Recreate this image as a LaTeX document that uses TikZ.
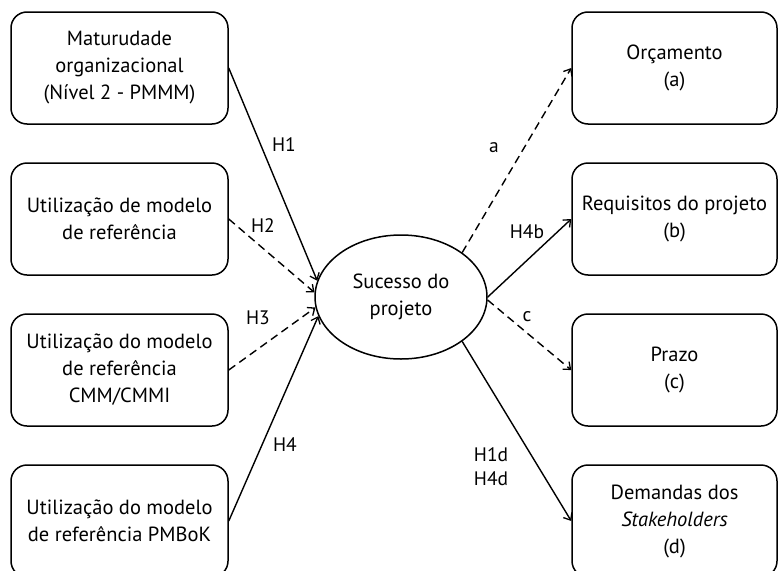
\documentclass[tikz,border=0pt]{standalone}
\usepackage{fontspec}
\setmainfont{PT Sans}
\usetikzlibrary{shapes.geometric,arrows.meta}
\begin{document}
\begin{tikzpicture}[x=1pt,y=-1pt,
  box/.style={draw,line width=1.5pt,rounded corners=16pt,minimum width=217pt,minimum height=112pt,inner sep=0pt,align=center,font=\fontsize{20.5}{27}\selectfont},
  rbox/.style={box,minimum width=205pt},
  lab/.style={font=\fontsize{19.5}{24}\selectfont,align=center,inner sep=0pt},
  conn/.style={line width=1.4pt,-{Straight Barb[length=6pt,width=10pt,line width=1.3pt]}},
  dsh/.style={conn,dash pattern=on 8pt off 5pt}]
\useasboundingbox (0,0) rectangle (778,570);
\clip (0,0) rectangle (778,570);
\node[box] (m1) at (119.5,68) {Maturudade\\organizacional\\(Nível 2 - PMMM)};
\node[box] (m2) at (119.5,219) {Utilização de modelo\\de referência};
\node[box] (m3) at (119.5,370) {Utilização do modelo\\de referência\\CMM/CMMI};
\node[box] (m4) at (119.5,521) {Utilização do modelo\\de referência PMBoK};
\node[draw,ellipse,line width=1.5pt,minimum width=172pt,minimum height=124pt,inner sep=0pt,align=center,font=\fontsize{20.5}{27}\selectfont] (e) at (401,297) {Sucesso do\\projeto};
\node[rbox] (a) at (674.5,68) {Orçamento\\(a)};
\node[rbox] (b) at (674.5,219) {Requisitos do projeto\\(b)};
\node[rbox] (c) at (674.5,370) {Prazo\\(c)};
\node[rbox] (d) at (674.5,521) {Demandas dos\\\textit{Stakeholders}\\(d)};
\draw[conn] (m1.east) -- (e.169);
\draw[dsh] (m2.east) -- (e.177);
\draw[dsh] (m3.east) -- (e.187);
\draw[conn] (m4.east) -- (e.193);
\draw[dsh] (e.36) -- (a.west);
\draw[conn] (e.east) -- (b.west);
\draw[dsh] (e.-2) -- (c.west);
\draw[conn] (e.-36) -- (d.west);
\node[lab] (l1) at (284,145) {H1};
\node[lab] (l2) at (263,226) {H2};
\node[lab] (l3) at (258,318) {H3};
\node[lab] (l4) at (285,445) {H4};
\node[lab] (la) at (494,148) {a};
\node[lab] (lb) at (527,232) {H4b};
\node[lab] (lc) at (527,317) {c};
\node[lab] (ld) at (491,467) {H1d\\H4d};
\end{tikzpicture}
\end{document}
